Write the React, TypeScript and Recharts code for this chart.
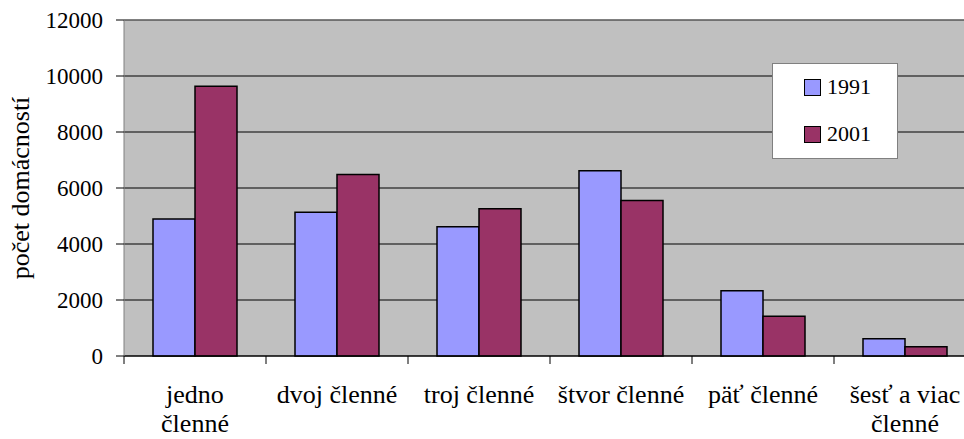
import React from 'react';
import { BarChart, Bar, XAxis, YAxis, CartesianGrid, Legend, ReferenceLine } from 'recharts';

const categories = ['jedno\nčlenné', 'dvoj členné', 'troj členné', 'štvor členné', 'päť členné', 'šesť a viac\nčlenné'];
const values1991 = [4890, 5130, 4620, 6620, 2330, 620];
const values2001 = [9630, 6480, 5260, 5550, 1420, 330];
const yTicks = [0, 2000, 4000, 6000, 8000, 10000, 12000];

const data = categories.map((name, i) => ({ name, y1991: values1991[i], y2001: values2001[i] }));

const FONT = 'Liberation Serif';
const CHART_W = 990;
const CHART_H = 439;
const MARGIN = { top: 20, right: 14, bottom: 0, left: 0 };
const YAXIS_W = 124;
const XAXIS_H = 83;
const BAND = (CHART_W - MARGIN.left - MARGIN.right - YAXIS_W) / categories.length;

const CategoryTick = ({ x, y, payload }: any) => {
  const lines = String(payload.value).split('\n');
  const left = x - BAND / 2;
  return (
    <g>
      <line x1={left} y1={y} x2={left} y2={y + 8} stroke="#000" />
      {lines.map((ln, i) => (
        <text key={i} x={x} y={y + 47 + i * 29} textAnchor="middle" style={{ fontFamily: FONT, fontSize: 26 }} fill="#000">
          {ln}
        </text>
      ))}
    </g>
  );
};

const YLabel = ({ viewBox }: any) => {
  const x = viewBox.x + 29;
  const y = viewBox.y + viewBox.height / 2;
  return (
    <text x={x} y={y} transform={`rotate(-90, ${x}, ${y})`} textAnchor="middle" style={{ fontFamily: FONT, fontSize: 26 }} fill="#000">
      počet domácností
    </text>
  );
};

const LegendBox = ({ payload }: any) => (
  <div style={{ width: 126, height: 96, boxSizing: 'border-box', background: '#fff', border: '1px solid #808080', paddingTop: 14, paddingLeft: 31 }}>
    {(payload || []).map((p: any, i: number) => (
      <div key={i} style={{ display: 'flex', alignItems: 'center', height: 18, marginBottom: i === 0 ? 29 : 0 }}>
        <span style={{ width: 15, height: 15, background: p.color, border: '1px solid #000', display: 'inline-block' }} />
        <span style={{ marginLeft: 6, fontFamily: FONT, fontSize: 22, lineHeight: '18px', color: '#000' }}>{p.value}</span>
      </div>
    ))}
  </div>
);

export default function App() {
  return (
    <div style={{ position: 'fixed', left: 0, top: 0, width: 964, height: 439, overflow: 'hidden', background: '#fff', fontFamily: FONT }}>
      <BarChart width={CHART_W} height={CHART_H} data={data} margin={MARGIN} barCategoryGap={29} barGap={0} style={{ fontFamily: FONT }}>
        <CartesianGrid vertical={false} stroke="#000" fill="#C0C0C0" fillOpacity={1} />
        <XAxis
          dataKey="name"
          height={XAXIS_H}
          interval={0}
          tickSize={0}
          tickMargin={0}
          tickLine={false}
          axisLine={{ stroke: '#000' }}
          tick={<CategoryTick />}
        />
        <YAxis
          width={YAXIS_W}
          domain={[0, 12000]}
          ticks={yTicks}
          interval={0}
          tickSize={8}
          tickMargin={13}
          tickLine={{ stroke: '#000' }}
          axisLine={{ stroke: '#808080' }}
          tick={{ fontFamily: FONT, fontSize: 23, fill: '#000', style: { fontFamily: FONT } }}
          label={<YLabel />}
        />
        <ReferenceLine y={12000} stroke="#808080" />
        <Legend
          layout="vertical"
          align="center"
          verticalAlign="middle"
          content={<LegendBox />}
          wrapperStyle={{ left: 772, top: 63, width: 126, height: 96 }}
        />
        <Bar dataKey="y1991" name="1991" fill="#9999FF" stroke="#000" strokeWidth={1.5} isAnimationActive={false} />
        <Bar dataKey="y2001" name="2001" fill="#993366" stroke="#000" strokeWidth={1.5} isAnimationActive={false} />
      </BarChart>
    </div>
  );
}
